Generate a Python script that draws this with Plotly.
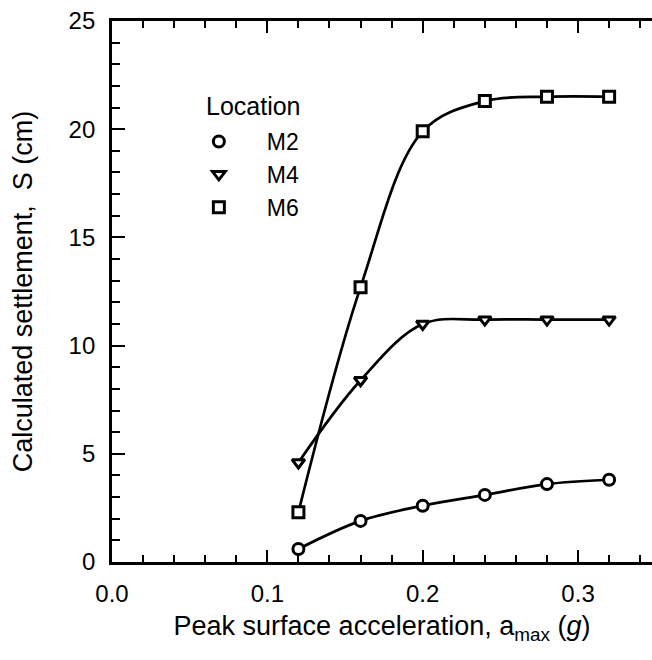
import plotly.graph_objects as go

# Peak surface acceleration (g) and calculated settlement (cm) at each location
ACCEL = [0.12, 0.16, 0.20, 0.24, 0.28, 0.32]
M2 = [0.6, 1.9, 2.6, 3.1, 3.6, 3.8]
M4 = [4.6, 8.4, 11.0, 11.2, 11.2, 11.2]
M6 = [2.3, 12.7, 19.9, 21.3, 21.5, 21.5]

SERIES = [
    ("M2", M2, "circle"),
    ("M4", M4, "triangle-down"),
    ("M6", M6, "square"),
]

FONT = "Liberation Sans, Arial, Helvetica, sans-serif"
X_RANGE = [0, 0.3476]
Y_RANGE = [0, 25]
MARKER_SIZE = 11
MARKER_EDGE = 3

fig = go.Figure()

for name, vals, sym in SERIES:
    fig.add_trace(go.Scatter(
        x=ACCEL, y=vals, mode="lines+markers", showlegend=False,
        line=dict(color="black", width=2.7, shape="spline", smoothing=1.0),
        marker=dict(symbol=sym, size=MARKER_SIZE, color="white",
                    line=dict(color="black", width=MARKER_EDGE)),
    ))

# legend entries (markers only)
for name, vals, sym in SERIES:
    fig.add_trace(go.Scatter(
        x=[None], y=[None], mode="markers", name=name,
        marker=dict(symbol=sym, size=MARKER_SIZE, color="white",
                    line=dict(color="black", width=MARKER_EDGE)),
    ))

fig.update_layout(
    width=652, height=660,
    margin=dict(l=112, r=0, t=21, b=98),
    paper_bgcolor="white", plot_bgcolor="white",
    font=dict(family=FONT, size=24, color="black"),
    showlegend=True,
    legend=dict(
        x=0.109, y=0.817, xanchor="left", yanchor="top",
        bgcolor="rgba(0,0,0,0)",
        font=dict(size=23),
        itemwidth=86,
    ),
    annotations=[dict(
        text="Location", xref="paper", yref="paper",
        x=(204 - 112) / 540, y=1 - (106 - 21) / 541.3,
        xanchor="left", yanchor="middle", showarrow=False,
        font=dict(size=25),
    )],
    xaxis=dict(
        range=X_RANGE, dtick=0.1, tick0=0, tickformat=".1f",
        showgrid=False, zeroline=False,
        showline=True, linecolor="black", linewidth=2.8, mirror="ticks",
        ticks="inside", ticklen=12, tickwidth=2, tickcolor="black",
        minor=dict(dtick=0.02, ticks="inside", ticklen=7, tickwidth=2,
                   tickcolor="black", showgrid=False),
        ticklabelstandoff=8,
        title=dict(text="Peak surface acceleration, a<sub>max</sub> (<i>g</i>)",
                   standoff=11, font=dict(size=27)),
    ),
    yaxis=dict(
        range=Y_RANGE, dtick=5, tick0=0,
        showgrid=False, zeroline=False,
        showline=True, linecolor="black", linewidth=2.8, mirror=False,
        ticks="inside", ticklen=13, tickwidth=2, tickcolor="black",
        minor=dict(dtick=1, ticks="inside", ticklen=8, tickwidth=2,
                   tickcolor="black", showgrid=False),
        ticklabelstandoff=9,
        title=dict(text="Calculated settlement,  S (cm)", standoff=29,
                   font=dict(size=27)),
    ),
    yaxis2=dict(
        range=Y_RANGE, dtick=5, tick0=0, overlaying="y", side="right",
        anchor="x", showgrid=False, zeroline=False, showline=False,
        showticklabels=False,
        ticks="inside", ticklen=9, tickwidth=2, tickcolor="black",
        minor=dict(dtick=1, ticks="inside", ticklen=5, tickwidth=2,
                   tickcolor="black", showgrid=False),
    ),
)

fig.write_html("out.html")
